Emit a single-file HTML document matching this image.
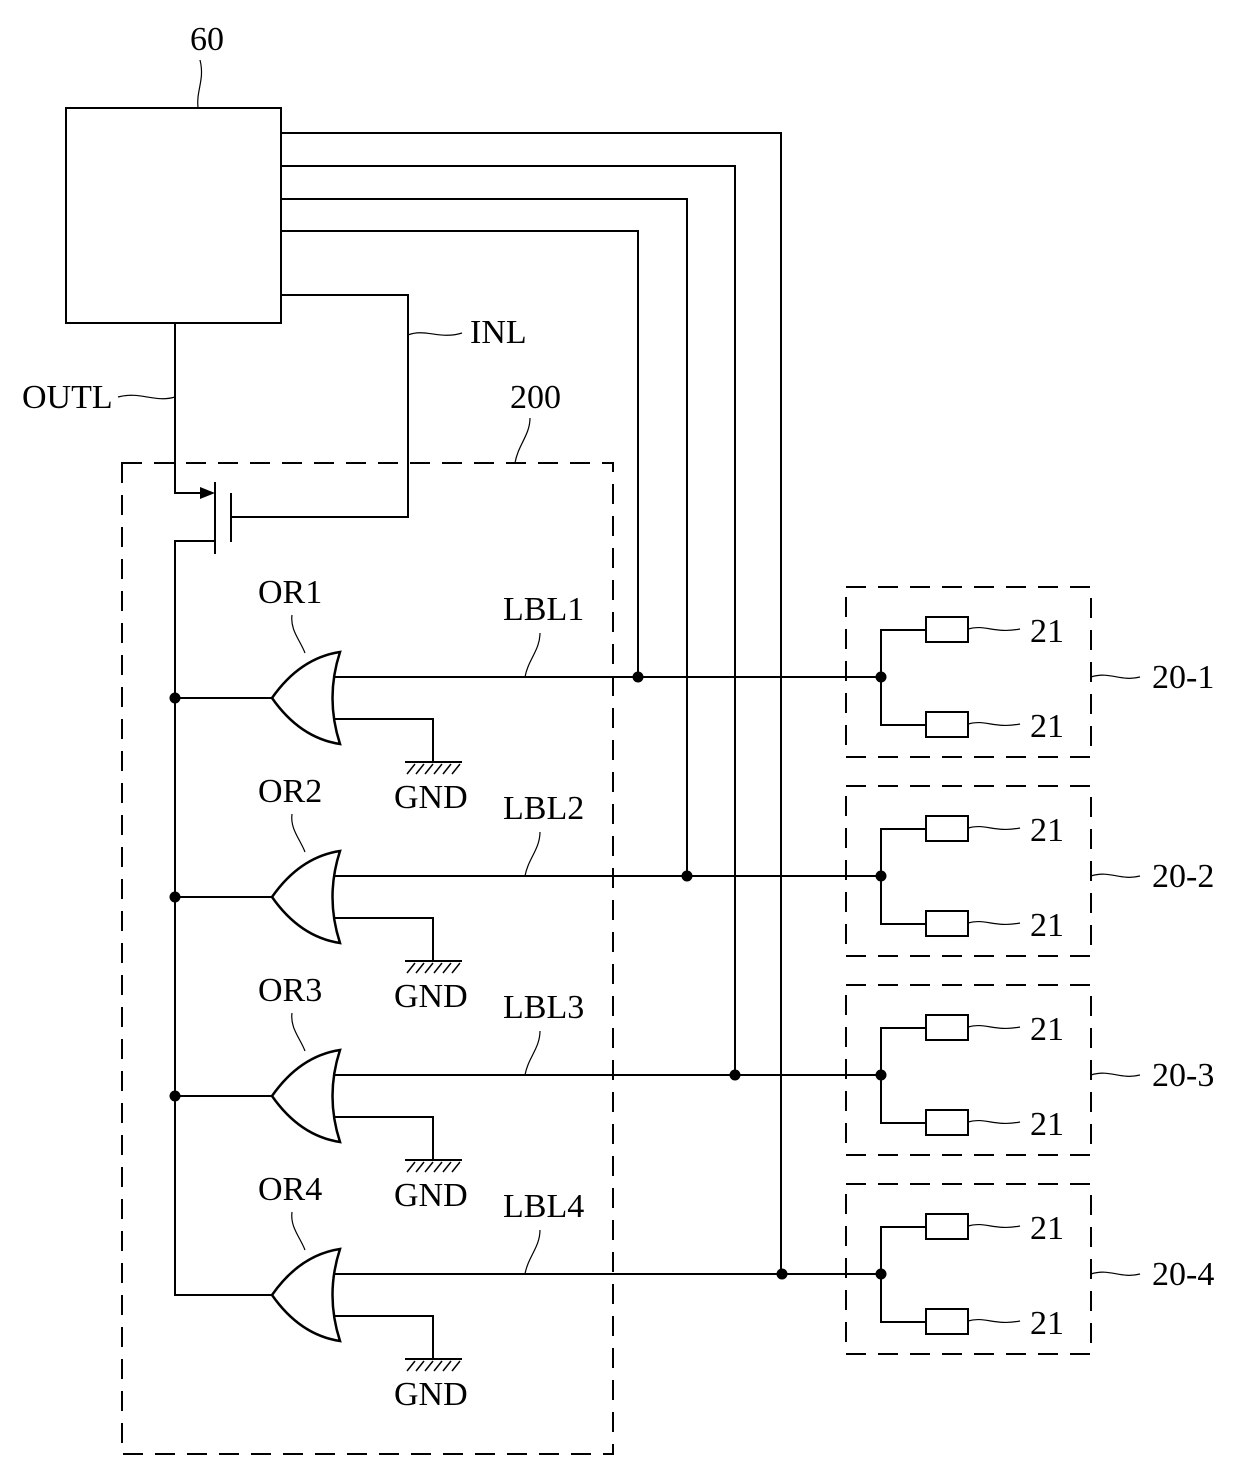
<!DOCTYPE html>
<html><head><meta charset="utf-8"><style>
html,body{margin:0;padding:0;background:#fff}
svg{display:block}
text{font-family:"Liberation Serif",serif;font-size:34px;fill:#000}
</style></head><body>
<svg width="1240" height="1475" viewBox="0 0 1240 1475" xmlns="http://www.w3.org/2000/svg">
<defs>
<g id="orgate">
<path d="M340,652 Q325,698 340,744 Q300,738 272,698 Q300,658 340,652 Z" fill="#fff" stroke="#000" stroke-width="2.5"/>
<line x1="175" y1="698" x2="272" y2="698" stroke="#000" stroke-width="2"/>
<polyline points="333,677 880,677" fill="none" stroke="#000" stroke-width="2"/>
<polyline points="333,719 433,719 433,762" fill="none" stroke="#000" stroke-width="2"/>
<line x1="405" y1="762" x2="462" y2="762" stroke="#000" stroke-width="2"/>
<path d="M407,774 L415,764 M416,774 L424,764 M425,774 L433,764 M434,774 L442,764 M443,774 L451,764 M452,774 L460,764" stroke="#000" stroke-width="1.5"/>
<text x="394" y="808">GND</text>
<path d="M305,653 C300,640 290,630 292,615" fill="none" stroke="#000" stroke-width="1.2"/>
<path d="M525,677 C528,660 540,650 540,633" fill="none" stroke="#000" stroke-width="1.2"/>
<circle cx="881" cy="677" r="5.5" fill="#000"/>
<polyline points="881,677 881,630 926,630" fill="none" stroke="#000" stroke-width="2"/>
<polyline points="881,677 881,725 926,725" fill="none" stroke="#000" stroke-width="2"/>
<rect x="926" y="617" width="42" height="25" fill="#fff" stroke="#000" stroke-width="2"/>
<rect x="926" y="712" width="42" height="25" fill="#fff" stroke="#000" stroke-width="2"/>
<path d="M968,629 C985,624 995,634 1020,629" fill="none" stroke="#000" stroke-width="1.2"/>
<path d="M968,724 C985,719 995,729 1020,724" fill="none" stroke="#000" stroke-width="1.2"/>
<text x="1030" y="642">21</text>
<text x="1030" y="737">21</text>
<rect x="846" y="587" width="245" height="170" fill="none" stroke="#000" stroke-width="2" stroke-dasharray="20,12"/>
<path d="M1091,677 C1110,671 1120,682 1140,677" fill="none" stroke="#000" stroke-width="1.2"/>
</g>
</defs>
<g fill="none" stroke="#000" stroke-width="2">
<rect x="66" y="108" width="215" height="215"/>
<polyline points="281,133 781,133 781,1274"/>
<polyline points="281,166 735,166 735,1075"/>
<polyline points="281,199 687,199 687,876"/>
<polyline points="281,231 638,231 638,677"/>
<polyline points="281,295 408,295 408,517 231,517"/>
<polyline points="175,323 175,493 205,493"/>
<line x1="215" y1="482" x2="215" y2="554"/>
<line x1="231" y1="493" x2="231" y2="542"/>
<polyline points="215,541 175,541 175,1295 272,1295"/>
<rect x="122" y="463" width="491" height="991" stroke-dasharray="20,12"/>
<path d="M198,108 C196,90 205,80 200,60" stroke-width="1.2"/>
<path d="M408,335 C425,328 440,340 462,333" stroke-width="1.2"/>
<path d="M175,397 C155,403 140,391 118,397" stroke-width="1.2"/>
<path d="M515,463 C518,445 530,435 530,418" stroke-width="1.2"/>
</g>
<polygon points="215,493 200,487 200,499" fill="#000"/>
<use href="#orgate"/>
<use href="#orgate" transform="translate(0,199)"/>
<use href="#orgate" transform="translate(0,398)"/>
<use href="#orgate" transform="translate(0,597)"/>
<rect x="160" y="1290" width="12" height="12" fill="#fff"/>
<line x1="175" y1="1280" x2="175" y2="1296" stroke="#000" stroke-width="2"/>
<circle cx="175" cy="698" r="5.5"/>
<circle cx="175" cy="897" r="5.5"/>
<circle cx="175" cy="1096" r="5.5"/>
<circle cx="638" cy="677" r="5.5"/>
<circle cx="687" cy="876" r="5.5"/>
<circle cx="735" cy="1075" r="5.5"/>
<circle cx="782" cy="1274" r="5.5"/>
<text x="190" y="50">60</text>
<text x="470" y="343">INL</text>
<text x="22" y="408">OUTL</text>
<text x="510" y="408">200</text>
<text x="258" y="603">OR1</text>
<text x="258" y="802">OR2</text>
<text x="258" y="1001">OR3</text>
<text x="258" y="1200">OR4</text>
<text x="503" y="620">LBL1</text>
<text x="503" y="819">LBL2</text>
<text x="503" y="1018">LBL3</text>
<text x="503" y="1217">LBL4</text>
<text x="1152" y="688">20-1</text>
<text x="1152" y="887">20-2</text>
<text x="1152" y="1086">20-3</text>
<text x="1152" y="1285">20-4</text>
</svg>
</body></html>
